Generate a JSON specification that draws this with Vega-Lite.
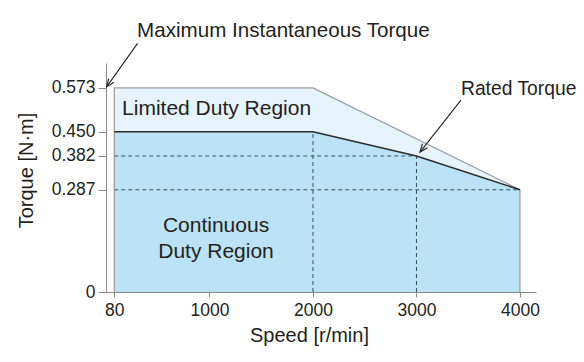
{
  "$schema": "https://vega.github.io/schema/vega-lite/v6.json",
  "width": 430,
  "height": 229,
  "autosize": {"type": "none"},
  "padding": {"left": 106, "top": 63, "right": 48, "bottom": 70},
  "background": "white",
  "config": {"view": {"stroke": null}, "font": "Liberation Sans"},
  "datasets": {
    "limited": [
      {"speed": 80, "torque": 0.573},
      {"speed": 2000, "torque": 0.573},
      {"speed": 4000, "torque": 0.287}
    ],
    "continuous": [
      {"speed": 80, "torque": 0.45},
      {"speed": 2000, "torque": 0.45},
      {"speed": 3000, "torque": 0.382},
      {"speed": 4000, "torque": 0.287}
    ],
    "outline": [
      {"o": 1, "speed": 80, "torque": 0},
      {"o": 2, "speed": 80, "torque": 0.573},
      {"o": 3, "speed": 2000, "torque": 0.573},
      {"o": 4, "speed": 4000, "torque": 0.287},
      {"o": 5, "speed": 4000, "torque": 0}
    ],
    "guides": [
      {"speed": 80, "torque": 0.382, "speed2": 3000, "torque2": 0.382},
      {"speed": 80, "torque": 0.287, "speed2": 4000, "torque2": 0.287},
      {"speed": 2000, "torque": 0, "speed2": 2000, "torque2": 0.45},
      {"speed": 3000, "torque": 0, "speed2": 3000, "torque2": 0.382}
    ],
    "arrows": [
      {"id": "max", "speed": 305, "torque": 0.698, "speed2": 6, "torque2": 0.576},
      {"id": "rated", "speed": 3430, "torque": 0.539, "speed2": 3034, "torque2": 0.393}
    ],
    "notes": [
      {"id": "max", "label": "Maximum Instantaneous Torque", "speed": 300, "torque": 0.716},
      {"id": "rated", "label": "Rated Torque", "speed": 3430, "torque": 0.553},
      {"id": "limited", "label": "Limited Duty Region", "speed": 155, "torque": 0.497},
      {"id": "cont", "label": "Continuous", "speed": 1063, "torque": 0.1685},
      {"id": "cont", "label": "Duty Region", "speed": 1063, "torque": 0.0955}
    ]
  },
  "layer": [
    {
      "data": {"name": "limited"},
      "mark": {"type": "area", "color": "#e5f3fc", "opacity": 1},
      "encoding": {
        "x": {
          "field": "speed", "type": "quantitative",
          "scale": {"domain": [0, 4155], "nice": false, "zero": false},
          "axis": {
            "values": [80, 1000, 2000, 3000, 4000],
            "format": "d",
            "title": "Speed [r/min]",
            "grid": false,
            "domainColor": "#8a8a8a",
            "tickColor": "#8a8a8a",
            "tickSize": 5,
            "labelFontSize": 17.5,
            "labelColor": "#231f20",
            "labelBaseline": "alphabetic",
            "labelPadding": 18,
            "labelFlush": false,
            "labelOverlap": false,
            "titleFontSize": 20,
            "titleFontWeight": "normal",
            "titleColor": "#231f20",
            "titleBaseline": "alphabetic",
            "titleX": 203,
            "titleY": 49
          }
        },
        "y": {
          "field": "torque", "type": "quantitative",
          "scale": {"domain": [0, 0.643], "nice": false},
          "axis": {
            "values": [0, 0.287, 0.382, 0.45, 0.573],
            "labelExpr": "datum.value == 0 ? '0' : format(datum.value, '.3f')",
            "title": "Torque [N·m]",
            "grid": false,
            "domainColor": "#8a8a8a",
            "tickColor": "#8a8a8a",
            "tickSize": 8,
            "labelPadding": 3,
            "labelFontSize": 17.5,
            "labelColor": "#231f20",
            "labelOverlap": false,
            "titleFontSize": 20,
            "titleFontWeight": "normal",
            "titleColor": "#231f20",
            "titleX": -70,
            "titleY": 107
          }
        }
      }
    },
    {
      "data": {"name": "continuous"},
      "mark": {"type": "area", "color": "#bce2f6", "opacity": 1},
      "encoding": {
        "x": {"field": "speed", "type": "quantitative"},
        "y": {"field": "torque", "type": "quantitative"}
      }
    },
    {
      "data": {"name": "guides"},
      "mark": {"type": "rule", "color": "#3b4f63", "strokeWidth": 1, "strokeDash": [4, 3]},
      "encoding": {
        "x": {"field": "speed", "type": "quantitative"},
        "y": {"field": "torque", "type": "quantitative"},
        "x2": {"field": "speed2"},
        "y2": {"field": "torque2"}
      }
    },
    {
      "data": {"name": "outline"},
      "mark": {"type": "line", "color": "#9a9a9a", "strokeWidth": 1.2},
      "encoding": {
        "x": {"field": "speed", "type": "quantitative"},
        "y": {"field": "torque", "type": "quantitative"},
        "order": {"field": "o", "type": "quantitative"}
      }
    },
    {
      "data": {"name": "continuous"},
      "mark": {"type": "line", "color": "#2b2b2b", "strokeWidth": 1.5},
      "encoding": {
        "x": {"field": "speed", "type": "quantitative"},
        "y": {"field": "torque", "type": "quantitative"}
      }
    },
    {
      "data": {"name": "arrows"},
      "mark": {"type": "rule", "color": "#231f20", "strokeWidth": 1.1},
      "encoding": {
        "x": {"field": "speed", "type": "quantitative"},
        "y": {"field": "torque", "type": "quantitative"},
        "x2": {"field": "speed2"},
        "y2": {"field": "torque2"}
      }
    },
    {
      "data": {"name": "arrows"},
      "transform": [{"filter": "datum.id == 'max'"}],
      "mark": {"type": "point", "shape": "M -0.8 2 L 0 0 L 0.8 2", "size": 64, "filled": false, "color": "#231f20", "strokeWidth": 1.1, "opacity": 1, "angle": 215.8},
      "encoding": {
        "x": {"field": "speed2", "type": "quantitative"},
        "y": {"field": "torque2", "type": "quantitative"}
      }
    },
    {
      "data": {"name": "arrows"},
      "transform": [{"filter": "datum.id == 'rated'"}],
      "mark": {"type": "point", "shape": "M -0.8 2 L 0 0 L 0.8 2", "size": 64, "filled": false, "color": "#231f20", "strokeWidth": 1.1, "opacity": 1, "angle": 218.3},
      "encoding": {
        "x": {"field": "speed2", "type": "quantitative"},
        "y": {"field": "torque2", "type": "quantitative"}
      }
    },
    {
      "data": {"name": "notes"},
      "transform": [{"filter": "datum.id == 'max'"}],
      "mark": {"type": "text", "align": "left", "baseline": "alphabetic", "fontSize": 20.6, "color": "#231f20"},
      "encoding": {
        "x": {"field": "speed", "type": "quantitative"},
        "y": {"field": "torque", "type": "quantitative"},
        "text": {"field": "label"}
      }
    },
    {
      "data": {"name": "notes"},
      "transform": [{"filter": "datum.id == 'rated'"}],
      "mark": {"type": "text", "align": "left", "baseline": "alphabetic", "fontSize": 19.3, "color": "#231f20"},
      "encoding": {
        "x": {"field": "speed", "type": "quantitative"},
        "y": {"field": "torque", "type": "quantitative"},
        "text": {"field": "label"}
      }
    },
    {
      "data": {"name": "notes"},
      "transform": [{"filter": "datum.id == 'limited'"}],
      "mark": {"type": "text", "align": "left", "baseline": "alphabetic", "fontSize": 21, "color": "#231f20"},
      "encoding": {
        "x": {"field": "speed", "type": "quantitative"},
        "y": {"field": "torque", "type": "quantitative"},
        "text": {"field": "label"}
      }
    },
    {
      "data": {"name": "notes"},
      "transform": [{"filter": "datum.id == 'cont'"}],
      "mark": {"type": "text", "align": "center", "baseline": "alphabetic", "fontSize": 21, "color": "#231f20"},
      "encoding": {
        "x": {"field": "speed", "type": "quantitative"},
        "y": {"field": "torque", "type": "quantitative"},
        "text": {"field": "label"}
      }
    }
  ]
}
